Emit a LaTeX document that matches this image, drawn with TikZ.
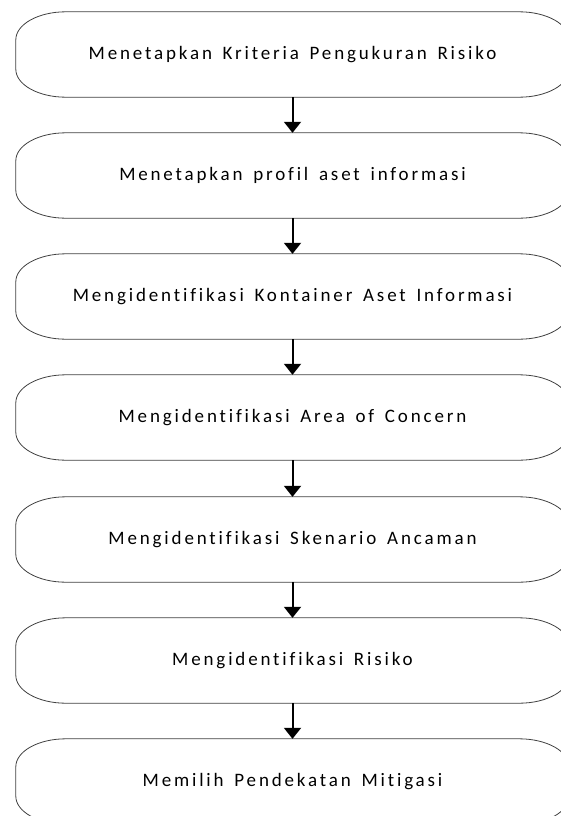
\documentclass[tikz,border=0pt]{standalone}
\usepackage{fontspec}
\setmainfont{Carlito}[LetterSpace=15,WordSpace=1.5,Ligatures={NoCommon}]
\usetikzlibrary{arrows.meta,calc}
\newcommand\stepoutline[1]{%
  \draw[outline] ($(#1.north west)+(50,0)$) -- ($(#1.north east)+(-50,0)$)
    arc[start angle=90,end angle=0,x radius=50pt,y radius=28pt]
    -- ($(#1.south east)+(0,28)$)
    arc[start angle=0,end angle=-90,x radius=50pt,y radius=28pt]
    -- ($(#1.south west)+(50,0)$)
    arc[start angle=270,end angle=180,x radius=50pt,y radius=28pt]
    -- ($(#1.north west)+(0,-28)$)
    arc[start angle=180,end angle=90,x radius=50pt,y radius=28pt] -- cycle;}
\begin{document}
\begin{tikzpicture}[x=1pt,y=1pt,
  stepnode/.style={minimum width=553pt,minimum height=85pt,inner sep=0pt,
    font=\fontsize{19}{22}\selectfont,text=black},
  outline/.style={draw=black!75,line width=0.8pt},
  flow/.style={-{Triangle[width=17pt,length=11pt]},line width=2pt}]
\useasboundingbox (0,0) rectangle (560,-816);
\node[stepnode] (s1) at (292.5,-54.5) {Menetapkan Kriteria Pengukuran Risiko};
\node[stepnode] (s2) at (292.5,-175.5) {Menetapkan profil aset informasi};
\node[stepnode] (s3) at (292.5,-296.5) {Mengidentifikasi Kontainer Aset Informasi};
\node[stepnode] (s4) at (292.5,-417.5) {Mengidentifikasi Area of Concern};
\node[stepnode] (s5) at (292.5,-539.5) {Mengidentifikasi Skenario Ancaman};
\node[stepnode] (s6) at (292.5,-660.5) {Mengidentifikasi Risiko};
\node[stepnode] (s7) at (292.5,-781.5) {Memilih Pendekatan Mitigasi};
\foreach \n in {s1,s2,s3,s4,s5,s6,s7} {\stepoutline{\n}}
\draw[flow] (s1.south) -- (s2.north);
\draw[flow] (s2.south) -- (s3.north);
\draw[flow] (s3.south) -- (s4.north);
\draw[flow] (s4.south) -- (s5.north);
\draw[flow] (s5.south) -- (s6.north);
\draw[flow] (s6.south) -- (s7.north);
\end{tikzpicture}
\end{document}
